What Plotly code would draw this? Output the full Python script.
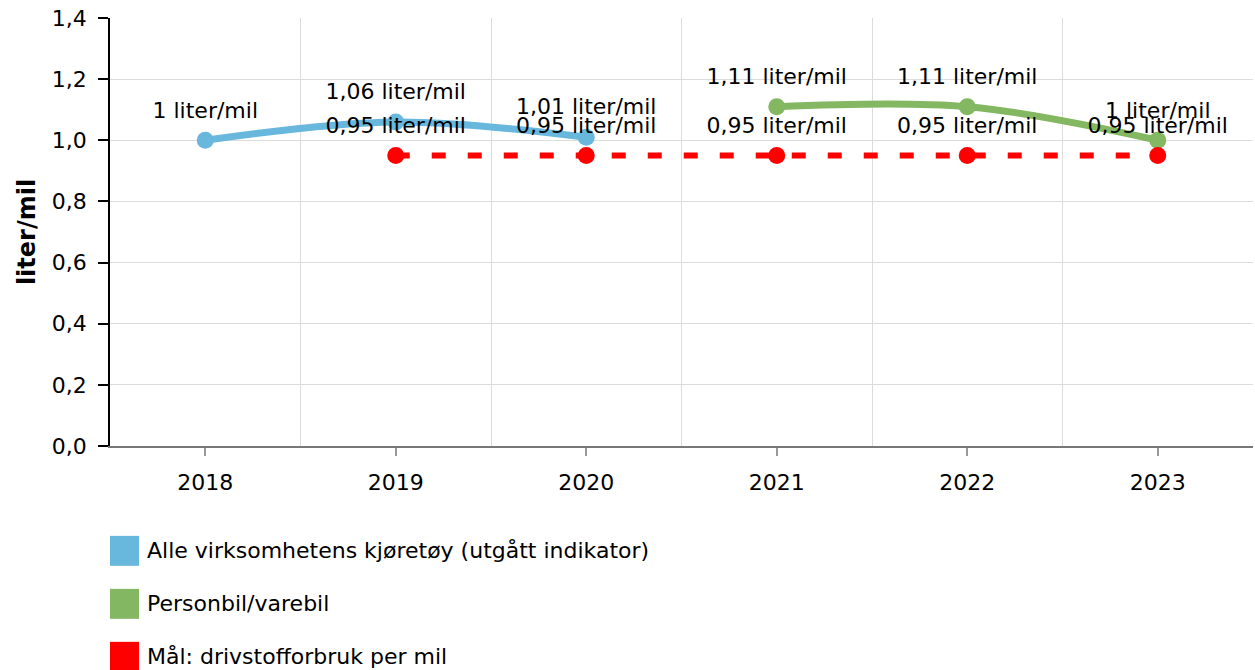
import plotly.graph_objects as go

# Data
years_all = [2018, 2019, 2020]
values_all = [1.00, 1.06, 1.01]

years_car = [2021, 2022, 2023]
values_car = [1.11, 1.11, 1.00]

years_goal = [2019, 2020, 2021, 2022, 2023]
values_goal = [0.95, 0.95, 0.95, 0.95, 0.95]

names = ['Alle virksomhetens kjøretøy (utgått indikator)',
         'Personbil/varebil',
         'Mål: drivstofforbruk per mil']
colors = ['#68b7dc', '#84b761', '#ff0000']

FONT = 'DejaVu Sans, Verdana, sans-serif'


def label(v):
    # Norwegian number format: comma decimal, no trailing zeros
    s = ('%.2f' % v).rstrip('0').rstrip('.').replace('.', ',')
    return s + ' liter/mil'


fig = go.Figure()

series = [(years_all, values_all, dict(width=7, shape='spline', smoothing=1)),
          (years_car, values_car, dict(width=7, shape='spline', smoothing=1)),
          (years_goal, values_goal, dict(width=6, dash='14px,22px'))]

for (xs, ys, ln), n, c in zip(series, names, colors):
    fig.add_trace(go.Scatter(x=xs, y=ys, mode='lines+markers', name=n,
                             line=dict(color=c, **ln), marker=dict(color=c, size=17)))

# Value labels (invisible larger markers push the text a bit higher)
for (xs, ys, ln), n in zip(series, names):
    fig.add_trace(go.Scatter(x=xs, y=ys, mode='markers+text', name=n, hoverinfo='skip',
                             text=[label(v) for v in ys], textposition='top center',
                             textfont=dict(size=22, color='#000'),
                             marker=dict(color='rgba(0,0,0,0)', size=26)))

# Manual legend below the plot
for i, (n, c) in enumerate(zip(names, colors)):
    yc = -0.245 - i * 0.1238
    fig.add_shape(type='rect', xref='paper', yref='paper',
                  x0=0.0, x1=0.0254, y0=yc - 0.035, y1=yc + 0.035,
                  fillcolor=c, line=dict(width=0))
    fig.add_annotation(xref='paper', yref='paper', x=0.031, y=yc, text=n, showarrow=False,
                       xanchor='left', yanchor='middle', font=dict(size=22, color='#000'))

fig.update_layout(
    width=1255, height=670,
    template='plotly_white',
    font=dict(family=FONT, size=22, color='#000'),
    separators=', ',
    showlegend=False,
    plot_bgcolor='white', paper_bgcolor='white',
    margin=dict(l=110, r=2, t=18, b=224),
    xaxis=dict(range=[2017.5, 2023.5], tickvals=[2018, 2019, 2020, 2021, 2022, 2023],
               showgrid=False, zeroline=False,
               showline=True, linecolor='#777', linewidth=1.5,
               ticks='outside', ticklen=8, tickcolor='#999', tickwidth=1.5,
               ticklabelstandoff=8,
               minor=dict(tick0=2017.5, dtick=1, showgrid=True, gridcolor='#dcdcdc', gridwidth=1, ticks=''),
               tickfont=dict(size=22)),
    yaxis=dict(range=[0, 1.4], dtick=0.2, tickformat='.1f',
               showgrid=True, gridcolor='#dcdcdc', gridwidth=1, zeroline=False,
               showline=True, linecolor='#000', linewidth=1.5,
               ticks='outside', ticklen=10, tickcolor='#000', tickwidth=1.5,
               ticklabelstandoff=7,
               tickfont=dict(size=22),
               title=dict(text='<b>liter/mil</b>', font=dict(size=24), standoff=9)),
)

fig.write_html('out.html', config={'displayModeBar': False},
               post_script="document.body.style.margin='0';")
